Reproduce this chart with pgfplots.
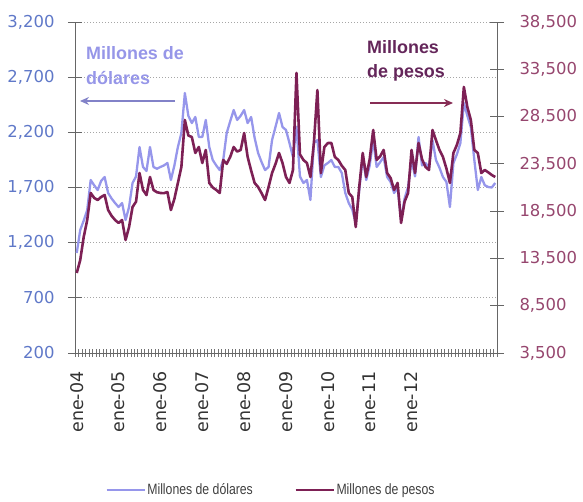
\documentclass[border=0pt]{standalone}
\usepackage{pgfplots}
\usepackage{pgfplotstable}
\pgfplotsset{compat=1.18}
\usetikzlibrary{arrows.meta}
\usepackage{fontspec}
\setmainfont{DejaVu Sans}
\newfontfamily\annfont{Liberation Sans}
\newfontfamily\legfont[FakeStretch=0.82]{Liberation Sans}
\definecolor{usdcol}{RGB}{150,150,235}
\definecolor{mxncol}{RGB}{125,32,85}
\definecolor{leftlab}{RGB}{95,120,200}
\definecolor{rightlab}{RGB}{150,70,110}
\definecolor{usdtxt}{RGB}{150,150,232}
\definecolor{mxntxt}{RGB}{100,38,90}
\definecolor{usdarrow}{RGB}{130,130,200}
\definecolor{mxnarrow}{RGB}{135,45,85}
\pgfplotstableread{
m usd mxn
0 1106 11960
1 1315 13330
2 1400 15770
3 1496 17560
4 1768 20420
5 1720 19900
6 1677 19680
7 1760 20000
8 1795 20210
9 1650 18620
10 1600 18000
11 1559 17560
12 1523 17250
13 1559 17560
14 1405 15450
15 1523 16820
16 1741 18940
17 1800 19500
18 2067 22530
19 1886 20740
20 1850 20200
21 2067 22110
22 1886 20740
23 1870 20500
24 1886 20420
25 1900 20400
26 1922 20520
27 1768 18620
28 1900 19800
29 2067 21480
30 2194 23170
31 2556 28140
32 2350 26500
33 2284 26340
34 2339 24650
35 2158 25280
36 2158 23590
37 2312 24970
38 2067 21480
39 1949 21000
40 1900 20740
41 1858 20420
42 1949 23910
43 2194 23500
44 2300 24230
45 2402 25280
46 2312 24800
47 2350 24970
48 2402 26760
49 2284 24230
50 2339 22800
51 2150 21480
52 2013 21050
53 1930 20400
54 1858 19680
55 1886 21050
56 2130 22530
57 2250 23500
58 2375 24650
59 2248 23590
60 2221 22110
61 2103 21480
62 1976 22850
63 2250 33110
64 1800 24500
65 1741 23910
66 1768 23590
67 1587 22110
68 2103 25710
69 2130 31310
70 1795 22530
71 1900 25280
72 1922 25700
73 1949 25710
74 1886 24230
75 1886 23910
76 1831 23300
77 1650 22850
78 1559 20420
79 1500 20000
80 1378 16820
81 1677 21050
82 1976 24650
83 1768 22110
84 1900 24000
85 2130 27080
86 1886 23910
87 1930 24300
88 1976 24970
89 1795 22530
90 1750 22000
91 1650 20740
92 1700 21480
93 1405 17250
94 1600 19500
95 1704 20420
96 1949 24970
97 1800 22530
98 2158 25710
99 1900 24000
100 1922 23170
101 1880 22850
102 2130 27080
103 1949 26000
104 1880 24970
105 1795 24230
106 1750 23000
107 1523 21480
108 1922 24650
109 2000 25500
110 2103 26760
111 2466 31630
112 2350 29500
113 2248 28140
114 1949 24970
115 1677 24650
116 1795 22530
117 1720 22850
118 1704 22600
119 1700 22320
120 1741 22110
}\datatable
\begin{document}
\begin{tikzpicture}
\path[use as bounding box] (0,0) rectangle (583bp,502bp);
\begin{axis}[
  at={(75bp,149bp)}, anchor=south west,
  scale only axis, width=422bp, height=331bp,
  xmin=-0.5, xmax=120.5, ymin=200, ymax=3200,
  axis x line*=bottom, axis y line*=left,
  axis line style={-, draw=black!60, line width=0.9bp},
  tick align=center,
  major tick length=14bp, minor tick length=8bp,
  tick style={draw=black!60, line width=0.8bp},
  xtick={0,12,...,96},
  xticklabels={ene-04,ene-05,ene-06,ene-07,ene-08,ene-09,ene-10,ene-11,ene-12},
  major x tick style={draw=none},
  minor xtick={-0.5,0.5,...,120.5},
  minor x tick style={draw=black!55, line width=0.6bp},
  x tick label style={rotate=90, anchor=east, font=\fontsize{17.5}{17.5}\selectfont, text=black!80, yshift=0bp, xshift=-8bp},
  ytick={200,700,...,3200},
  scaled y ticks=false,
  y tick label style={font=\fontsize{16.5}{16.5}\selectfont, text=leftlab, xshift=-10bp},
  /pgf/number format/.cd, 1000 sep={,}, assume math mode=true,
  /pgfplots/.cd,
  ymajorgrids,
  grid style={draw=black!35, dash pattern=on 1bp off 2bp, line width=0.9bp},
  clip=false,
]
\addplot[usdcol, line width=2.3bp, line join=round] table[x=m, y=usd] {\datatable};
\end{axis}
\begin{axis}[
  at={(75bp,149bp)}, anchor=south west,
  scale only axis, width=422bp, height=331bp,
  xmin=-0.5, xmax=120.5, ymin=3500, ymax=38500,
  axis x line=none, axis y line*=right,
  axis line style={-, draw=black!60, line width=0.9bp},
  tick align=center, major tick length=14bp,
  tick style={draw=black!60, line width=0.8bp},
  ytick={3500,8500,...,38500},
  scaled y ticks=false,
  y tick label style={font=\fontsize{16.5}{16.5}\selectfont, text=rightlab, xshift=12bp},
  /pgf/number format/.cd, fixed, 1000 sep={,}, assume math mode=true,
  /pgfplots/.cd,
  legend columns=2,
  legend style={draw=none, fill=none, at={(0.464,-0.414)}, anchor=center,
    font=\legfont\fontsize{15}{15}\selectfont, text=black!75,
    /tikz/every even column/.append style={column sep=40bp},
    nodes={inner xsep=1.5bp}},
  legend image code/.code={\draw[#1] (0bp,0bp) -- (38bp,0bp);},
]
\addlegendimage{usdcol, line width=2.3bp}
\addlegendentry{Millones de dólares}
\addplot[mxncol, line width=2.6bp, line join=round] table[x=m, y=mxn] {\datatable};
\addlegendentry{Millones de pesos}
\end{axis}
\node[anchor=base west, inner sep=0, text=usdtxt, font=\annfont\bfseries\fontsize{18}{18}\selectfont] at (86bp,442bp) {Millones de};
\node[anchor=base west, inner sep=0, text=usdtxt, font=\annfont\bfseries\fontsize{18}{18}\selectfont] at (86bp,417bp) {dólares};
\node[anchor=base west, inner sep=0, text=mxntxt, font=\annfont\bfseries\fontsize{18}{18}\selectfont] at (367bp,448bp) {Millones};
\node[anchor=base west, inner sep=0, text=mxntxt, font=\annfont\bfseries\fontsize{18}{18}\selectfont] at (367bp,424bp) {de pesos};
\draw[usdarrow, line width=1.3bp, -{Stealth[length=9bp,width=8bp]}] (175bp,401bp) -- (80bp,401bp);
\draw[mxnarrow, line width=1.6bp, -{Stealth[length=9bp,width=8bp]}] (370bp,399bp) -- (453bp,399bp);
\end{tikzpicture}
\end{document}
